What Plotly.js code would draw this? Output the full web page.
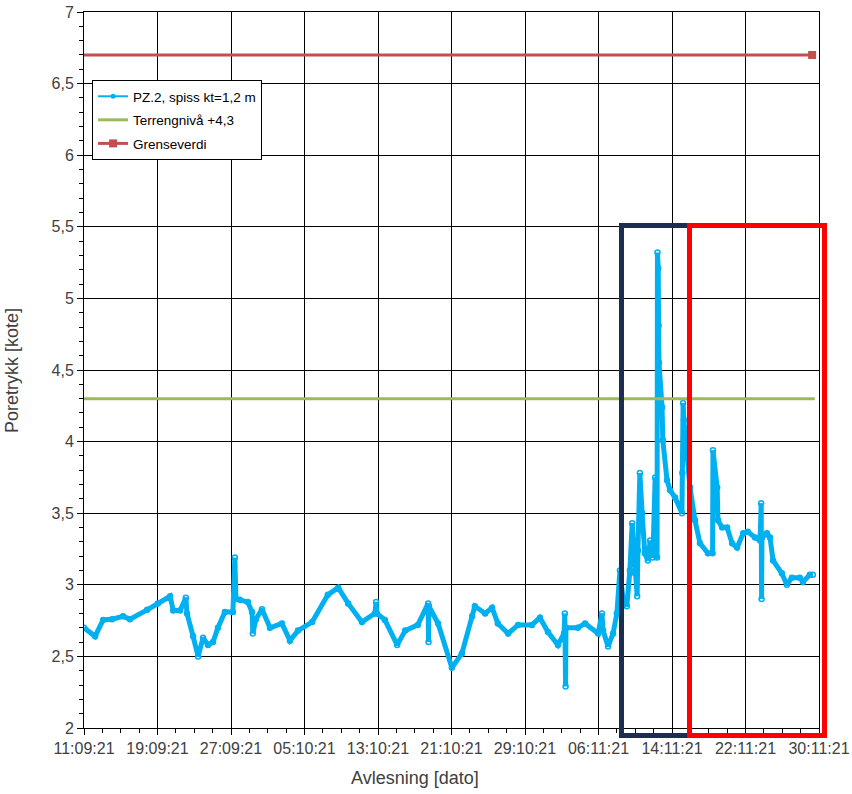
<!DOCTYPE html>
<html>
<head>
<meta charset="utf-8">
<script src="https://cdn.plot.ly/plotly-3.0.1.min.js"></script>
<style>html,body{margin:0;padding:0;background:#fff;}#chart{width:852px;height:794px;}</style>
</head>
<body>
<div id="chart"></div>
<script>
// Piezometer readings PZ.2 (date, kote)
var pzDates = [
"2021-09-11 00:00","2021-09-12 05:00","2021-09-13 02:00","2021-09-14 01:00","2021-09-15 06:00","2021-09-16 00:00",
"2021-09-17 21:00","2021-09-19 01:00","2021-09-20 09:00","2021-09-20 17:00","2021-09-21 11:00","2021-09-22 02:00",
"2021-09-22 05:00","2021-09-22 21:00","2021-09-23 10:00","2021-09-23 23:00","2021-09-24 12:00","2021-09-25 01:00",
"2021-09-25 14:00","2021-09-26 08:00","2021-09-27 05:00","2021-09-27 10:00","2021-09-27 13:00","2021-09-27 23:00",
"2021-09-28 20:00","2021-09-29 07:00","2021-09-29 09:00","2021-09-29 17:00","2021-09-30 09:00","2021-10-01 06:00",
"2021-10-02 13:00","2021-10-03 10:00","2021-10-04 07:00","2021-10-05 20:00","2021-10-07 13:00","2021-10-08 16:00",
"2021-10-09 18:00","2021-10-11 06:00","2021-10-12 16:00","2021-10-12 19:00","2021-10-12 21:00","2021-10-13 18:00",
"2021-10-15 02:00","2021-10-15 23:00","2021-10-17 08:00","2021-10-18 11:00","2021-10-18 12:00","2021-10-18 13:00",
"2021-10-19 13:00","2021-10-21 01:00","2021-10-22 03:00","2021-10-23 06:00","2021-10-23 13:00","2021-10-24 16:00",
"2021-10-25 10:00","2021-10-26 01:00","2021-10-27 04:00","2021-10-28 06:00","2021-10-29 18:00","2021-10-30 15:00",
"2021-10-31 12:00","2021-11-01 14:00","2021-11-02 06:00","2021-11-02 08:00","2021-11-02 10:00","2021-11-02 11:00",
"2021-11-03 18:00","2021-11-04 13:00","2021-11-05 23:00","2021-11-06 09:00","2021-11-06 12:00","2021-11-07 01:00",
"2021-11-07 14:00","2021-11-08 00:00","2021-11-08 08:00","2021-11-08 16:00","2021-11-09 02:00","2021-11-09 10:00",
"2021-11-09 16:00","2021-11-09 23:00","2021-11-10 05:00","2021-11-10 07:00","2021-11-10 12:00","2021-11-10 18:00",
"2021-11-11 01:00","2021-11-11 09:00","2021-11-11 15:00","2021-11-11 22:00","2021-11-12 04:00","2021-11-12 06:00",
"2021-11-12 09:00","2021-11-12 10:00","2021-11-12 12:00","2021-11-12 13:00","2021-11-12 14:00","2021-11-12 22:00",
"2021-11-13 00:00","2021-11-13 11:00","2021-11-13 19:00","2021-11-14 08:00","2021-11-15 02:00","2021-11-15 03:00",
"2021-11-15 05:00","2021-11-15 07:00","2021-11-15 23:00","2021-11-16 12:00","2021-11-17 01:00","2021-11-17 22:00",
"2021-11-18 10:00","2021-11-18 11:00","2021-11-18 22:00","2021-11-19 00:00","2021-11-19 11:00","2021-11-20 00:00",
"2021-11-20 13:00","2021-11-21 02:00","2021-11-21 18:00","2021-11-22 06:00","2021-11-23 01:00","2021-11-23 14:00",
"2021-11-23 17:00","2021-11-23 18:00","2021-11-23 19:00","2021-11-24 08:00","2021-11-24 16:00","2021-11-25 00:00",
"2021-11-25 23:00","2021-11-26 12:00","2021-11-27 01:00","2021-11-27 22:00","2021-11-28 06:00","2021-11-29 00:00",
"2021-11-29 08:00"
];
var pzValues = [
2.70,2.64,2.755,2.76,2.78,2.76,
2.825,2.87,2.92,2.82,2.82,2.91,
2.80,2.64,2.50,2.63,2.58,2.60,
2.70,2.81,2.81,3.19,2.90,2.895,
2.88,2.81,2.66,2.76,2.83,2.70,
2.73,2.61,2.68,2.74,2.93,2.98,
2.87,2.74,2.80,2.88,2.80,2.755,
2.58,2.68,2.72,2.87,2.60,2.85,
2.73,2.42,2.52,2.78,2.85,2.80,
2.84,2.73,2.66,2.72,2.72,2.77,
2.67,2.58,2.66,2.80,2.29,2.70,
2.70,2.73,2.66,2.80,2.68,2.57,
2.66,2.80,3.10,2.90,2.85,3.10,
3.43,3.08,2.92,3.24,3.78,3.50,
3.22,3.17,3.31,3.19,3.75,3.20,
3.19,5.32,5.21,4.81,4.55,4.24,
4.01,3.73,3.66,3.61,3.50,3.78,
4.27,4.15,3.68,3.45,3.29,3.22,
3.22,3.94,3.68,3.45,3.40,3.40,
3.29,3.26,3.36,3.37,3.33,3.31,
3.57,2.90,3.33,3.36,3.33,3.17,
3.08,3.00,3.05,3.05,3.02,3.07,
3.07
];
// Reference levels
var terrengDates = ["2021-09-11 00:00","2021-11-29 13:00"];
var terrengValues = [4.3, 4.3];
var grenseDates = ["2021-09-10 00:00","2021-11-29 06:00"];
var grenseValues = [6.7, 6.7];

var seriesNames = ["PZ.2, spiss kt=1,2 m","Terrengnivå +4,3","Grenseverdi"];

var FONT = "Arial, 'Liberation Sans', sans-serif";
var BLUE = "#00B0F0";
var traces = [
  {x: pzDates, y: pzValues, type: "scatter", mode: "lines+markers", name: seriesNames[0], showlegend: false,
   line: {color: BLUE, width: 5},
   marker: {symbol: "circle-open", size: 5, color: BLUE, line: {width: 1.5, color: BLUE}}},
  {x: [null], y: [null], type: "scatter", mode: "lines+markers", name: seriesNames[0], legendgroup: "a",
   line: {color: BLUE, width: 2}, marker: {symbol: "circle", size: 5, color: BLUE}},
  {x: terrengDates, y: terrengValues, type: "scatter", mode: "lines", name: seriesNames[1], legendgroup: "b",
   line: {color: "#9BBB59", width: 3}},
  {x: grenseDates, y: grenseValues, type: "scatter", mode: "lines+markers", name: seriesNames[2], legendgroup: "c",
   line: {color: "#C0504D", width: 3},
   marker: {symbol: "square", size: 8, color: "#C0504D"}}
];

var layout = {
  width: 852, height: 794,
  margin: {l: 84, r: 33, t: 12, b: 66},
  paper_bgcolor: "#ffffff", plot_bgcolor: "#ffffff",
  separators: ", ",
  font: {family: FONT, size: 14, color: "#404040"},
  showlegend: true,
  legend: {x: 0.011, y: 0.905, xanchor: "left", yanchor: "top", bgcolor: "#ffffff",
           bordercolor: "#000000", borderwidth: 1, font: {family: FONT, size: 13.5, color: "#000000"},
           traceorder: "grouped", tracegroupgap: 3},
  xaxis: {
    type: "date", range: ["2021-09-11", "2021-11-30"],
    tick0: "2021-09-11", dtick: 8 * 86400000, tickformat: "%d:%m:%y",
    showgrid: true, gridcolor: "#000000", gridwidth: 1,
    showline: true, linecolor: "#000000", linewidth: 1, mirror: true,
    ticks: "outside", ticklen: 6, tickcolor: "#000000",
    minor: {dtick: 2 * 86400000, ticks: "outside", ticklen: 4, tickcolor: "#000000", showgrid: false},
    tickfont: {family: FONT, size: 16, color: "#404040"},
    zeroline: false, fixedrange: true
  },
  yaxis: {
    range: [2, 7], dtick: 0.5, tick0: 2,
    showgrid: true, gridcolor: "#000000", gridwidth: 1,
    showline: true, linecolor: "#000000", linewidth: 1, mirror: true,
    ticks: "outside", ticklen: 6, tickcolor: "#000000",
    minor: {dtick: 0.1, ticks: "outside", ticklen: 4, tickcolor: "#000000", showgrid: false},
    tickfont: {family: FONT, size: 16, color: "#404040"},
    zeroline: false, fixedrange: true
  },
  annotations: [
    {text: "Avlesning [dato]", xref: "paper", yref: "paper", x: 0.45, y: -0.07, xanchor: "center", yanchor: "middle",
     showarrow: false, font: {family: FONT, size: 18, color: "#404040"}},
    {text: "Poretrykk [kote]", xref: "paper", yref: "paper", x: -0.098, y: 0.5, xanchor: "center", yanchor: "middle",
     textangle: -90, showarrow: false, font: {family: FONT, size: 18, color: "#404040"}}
  ],
  shapes: [
    {type: "rect", xref: "paper", yref: "paper", x0: 0.7313, x1: 0.8238, y0: -0.0105, y1: 0.7018,
     line: {color: "#1C2D4F", width: 5}, fillcolor: "rgba(0,0,0,0)", layer: "above"},
    {type: "rect", xref: "paper", yref: "paper", x0: 0.8238, x1: 1.0075, y0: -0.0105, y1: 0.7018,
     line: {color: "#FF0000", width: 5}, fillcolor: "rgba(0,0,0,0)", layer: "above"}
  ]
};

Plotly.newPlot("chart", traces, layout, {displayModeBar: false, staticPlot: true});
</script>
</body>
</html>
